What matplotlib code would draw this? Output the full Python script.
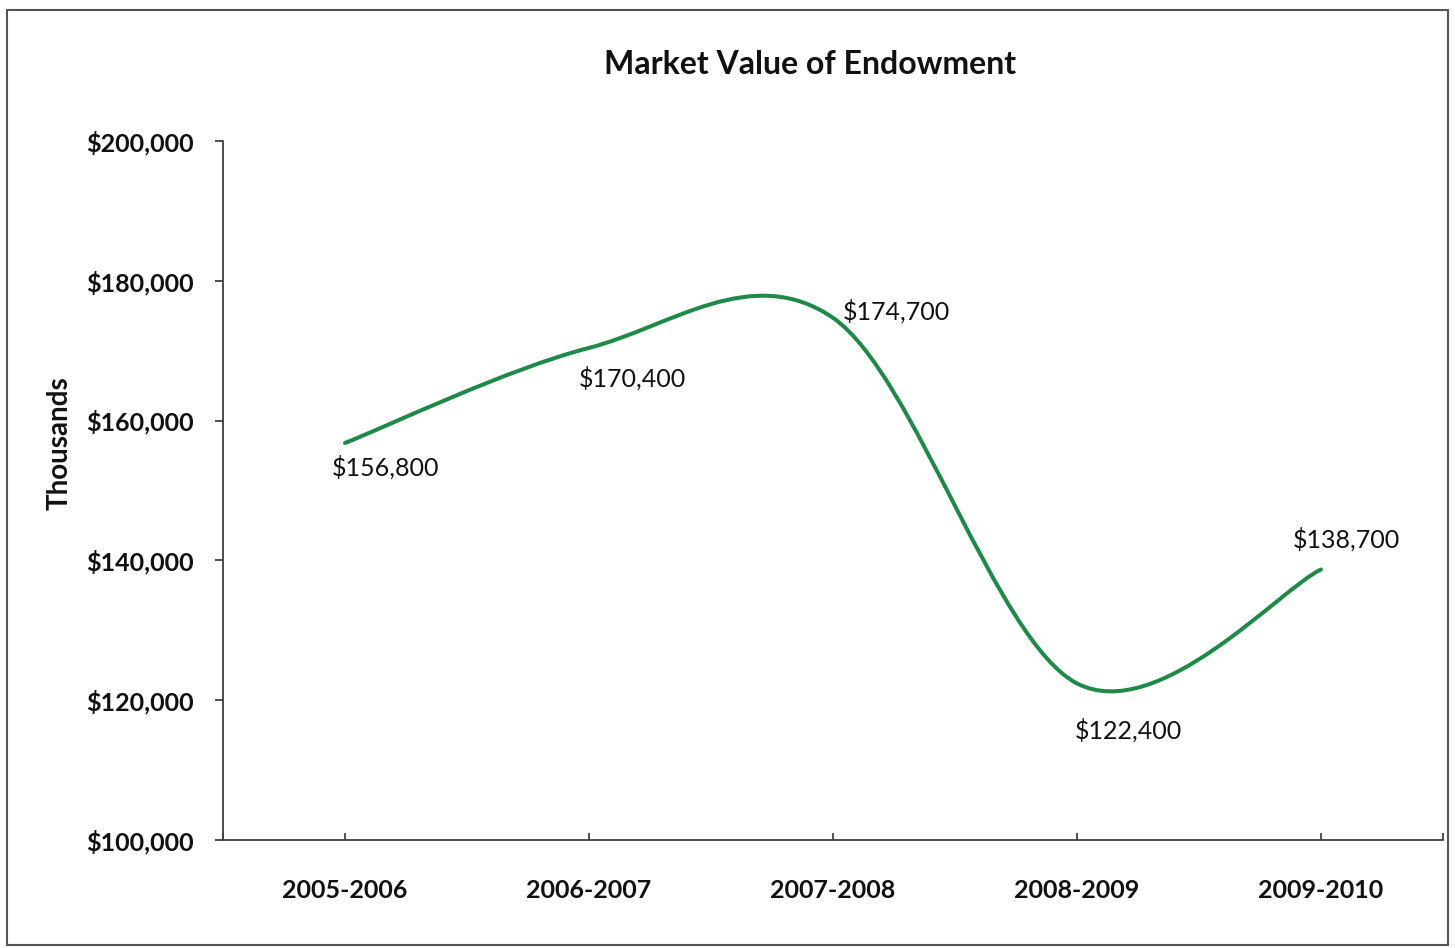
import matplotlib.pyplot as plt
from matplotlib.path import Path
from matplotlib.patches import PathPatch, Rectangle
from matplotlib.ticker import FuncFormatter

years = ["2005-2006", "2006-2007", "2007-2008", "2008-2009", "2009-2010"]
values = [156800, 170400, 174700, 122400, 138700]
# where each data label sits relative to its point (pixels)
label_offsets = [(41, -24), (43, -30), (63, 6), (51, -47), (25, 30)]

plt.rcParams["font.family"] = ["Lato", "DejaVu Sans"]

fig = plt.figure(figsize=(14.55, 9.48), dpi=100)
ax = fig.add_axes([223 / 1455, 1 - 840 / 948, 1220 / 1455, 699 / 948])

# excel-like smoothed line: cubic bezier through the points
xs = list(range(len(values)))
pts = list(zip(xs, values))
verts = [pts[0]]
codes = [Path.MOVETO]
n = len(pts)
for i in range(n - 1):
    p0 = pts[max(i - 1, 0)]
    p1 = pts[i]
    p2 = pts[i + 1]
    p3 = pts[min(i + 2, n - 1)]
    c1 = (p1[0] + (p2[0] - p0[0]) / 6, p1[1] + (p2[1] - p0[1]) / 6)
    c2 = (p2[0] - (p3[0] - p1[0]) / 6, p2[1] - (p3[1] - p1[1]) / 6)
    verts += [c1, c2, p2]
    codes += [Path.CURVE4] * 3
ax.add_patch(PathPatch(Path(verts, codes), fill=False, edgecolor="#1f8a47",
                       lw=2.9, capstyle="round", joinstyle="round"))

for x, v, off in zip(xs, values, label_offsets):
    ax.annotate("${:,}".format(v), (x, v), xytext=off, textcoords="offset pixels",
                ha="center", va="center", fontsize=18, color="#111111")

ax.set_xlim(-0.5, 4.5)
ax.set_ylim(100000, 200000)
ax.set_yticks(range(100000, 200001, 20000))
ax.yaxis.set_major_formatter(FuncFormatter(lambda v, p: "${:,.0f}".format(v)))
ax.set_xticks(xs)
ax.set_xticklabels(years)
ax.set_xticks([-0.5, 4.5], minor=True)

for s in ["top", "right"]:
    ax.spines[s].set_visible(False)
for s in ["left", "bottom"]:
    ax.spines[s].set_color("#404040")
    ax.spines[s].set_linewidth(1.3)

ax.tick_params(axis="y", direction="out", length=6, width=1.3, color="#404040",
               pad=15, labelsize=18)
ax.tick_params(axis="x", which="both", direction="in", length=5, width=1.3,
               color="#404040", pad=28, labelsize=18)
for lab in ax.get_xticklabels() + ax.get_yticklabels():
    lab.set_fontweight("bold")
    lab.set_color("#111111")

fig.text(810 / 1455, 1 - 65 / 948, "Market Value of Endowment", ha="center",
         va="center", fontsize=23, fontweight="bold", color="#111111")
fig.text(60 / 1455, 1 - 443 / 948, "Thousands", rotation=90, ha="center",
         va="center", fontsize=20, fontweight="bold", color="#111111")

fig.patches.append(Rectangle((7 / 1455, 1 - 945 / 948), 1441 / 1455, 935 / 948,
                             transform=fig.transFigure, fill=False,
                             edgecolor="#555555", lw=1.5))

plt.savefig("out.png", dpi=100)
